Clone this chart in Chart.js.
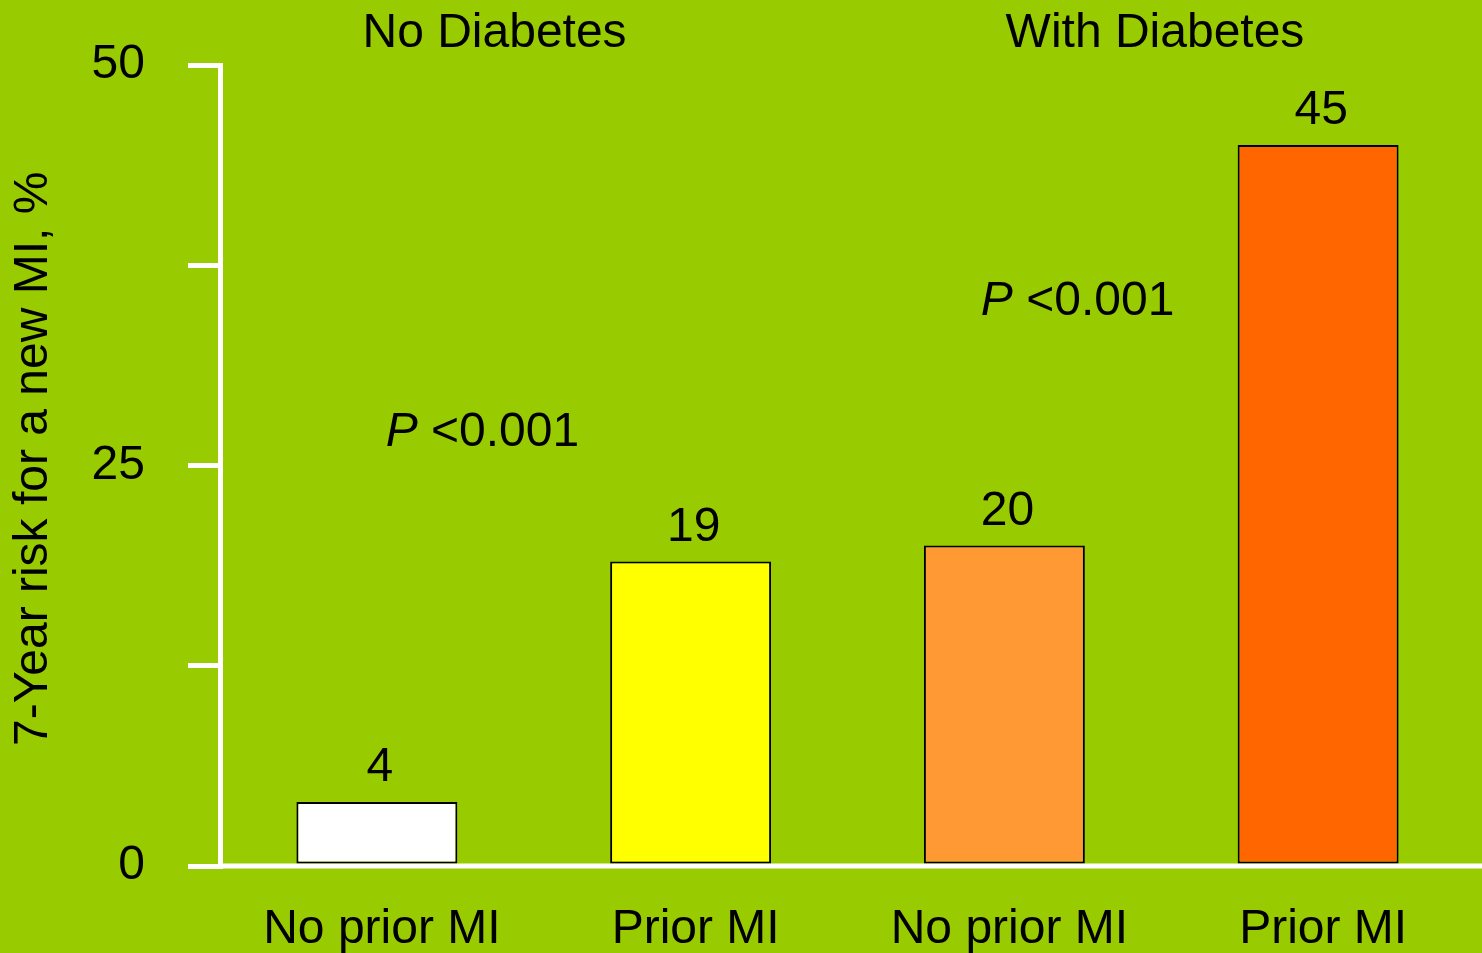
<!DOCTYPE html>
<html>
<head>
<meta charset="utf-8">
<script src="https://cdn.jsdelivr.net/npm/chart.js@4.4.1/dist/chart.umd.min.js"></script>
<style>
  html, body { margin: 0; padding: 0; background: #99CC00; }
  #wrap { width: 1482px; height: 953px; }
</style>
</head>
<body>
<div id="wrap"><canvas id="c" width="1482" height="953"></canvas></div>
<script>
// Risk of a new MI over 7 years, by diabetes and prior-MI status
const categories = ['No prior MI', 'Prior MI', 'No prior MI', 'Prior MI'];
const riskValues = [4, 19, 20, 45];
const barColors = ['#FFFFFF', '#FFFF00', '#FF9933', '#FF6600'];
const groupHeaders = ['No Diabetes', 'With Diabetes'];
const pValueLabels = ['<0.001', '<0.001'];
const yTickLabels = [0, 25, 50];

const FONT = '"Liberation Sans", Arial, sans-serif';
const FONT_SIZE = 48;

// header placement in category units along the x scale
const headerPos = [0.375, 2.48];
// p-value placement: [category units, axis value]
const pPos = [[0.028, 27.05], [1.925, 35.25]];

function xAt(scale, v) {
  const i = Math.floor(v);
  const a = scale.getPixelForValue(i);
  const b = scale.getPixelForValue(i + 1);
  return a + (b - a) * (v - i);
}

const backgroundPlugin = {
  id: 'bg',
  beforeDraw(chart) {
    const ctx = chart.ctx;
    ctx.save();
    ctx.fillStyle = '#99CC00';
    ctx.fillRect(0, 0, chart.width, chart.height);
    ctx.restore();
  }
};

// baseline along the zero value, running to the right edge of the canvas
const baselinePlugin = {
  id: 'baseline',
  beforeDatasetsDraw(chart) {
    const ctx = chart.ctx;
    const y = chart.scales.y.getPixelForValue(0);
    ctx.save();
    ctx.strokeStyle = '#FFFFFF';
    ctx.lineWidth = 5;
    ctx.beginPath();
    ctx.moveTo(chart.chartArea.left, y);
    ctx.lineTo(chart.width, y);
    ctx.stroke();
    ctx.restore();
  }
};

const textPlugin = {
  id: 'texts',
  afterDatasetsDraw(chart) {
    const ctx = chart.ctx;
    const xs = chart.scales.x, ys = chart.scales.y;
    ctx.save();
    ctx.fillStyle = '#000';
    ctx.textBaseline = 'middle';

    // values above bars
    ctx.font = FONT_SIZE + 'px ' + FONT;
    ctx.textAlign = 'center';
    chart.getDatasetMeta(0).data.forEach((bar, i) => {
      ctx.fillText(String(riskValues[i]), bar.x + 3, bar.y - 34);
    });

    // group headers
    groupHeaders.forEach((t, i) => {
      ctx.fillText(t, xAt(xs, headerPos[i]), 34);
    });

    // p-values, italic P
    ctx.textAlign = 'left';
    pValueLabels.forEach((t, i) => {
      const x0 = xAt(xs, pPos[i][0]);
      const y0 = ys.getPixelForValue(pPos[i][1]);
      ctx.font = 'italic ' + FONT_SIZE + 'px ' + FONT;
      ctx.fillText('P', x0, y0);
      const w = ctx.measureText('P ').width;
      ctx.font = FONT_SIZE + 'px ' + FONT;
      ctx.fillText(t, x0 + w, y0);
    });
    ctx.restore();
  }
};

new Chart(document.getElementById('c'), {
  type: 'bar',
  data: {
    labels: categories,
    datasets: [{
      data: riskValues,
      backgroundColor: barColors,
      borderColor: '#000000',
      borderWidth: 2,
      borderSkipped: false,
      categoryPercentage: 1,
      barPercentage: 0.513
    }]
  },
  options: {
    responsive: false,
    animation: false,
    events: [],
    layout: { padding: { top: 65, right: 7, bottom: 0, left: 0 } },
    plugins: {
      legend: { display: false },
      tooltip: { enabled: false },
      title: { display: false }
    },
    scales: {
      x: {
        type: 'category',
        offset: true,
        grid: { display: false, drawTicks: false },
        border: { display: false },
        ticks: {
          color: '#000',
          font: { family: FONT, size: FONT_SIZE },
          padding: 35,
          labelOffset: 5,
          maxRotation: 0,
          autoSkip: false
        },
        afterFit(scale) { scale.height = 87; }
      },
      y: {
        min: 0,
        max: 50,
        grid: {
          drawOnChartArea: false,
          drawTicks: true,
          tickLength: 32,
          color: '#FFFFFF',
          lineWidth: 5
        },
        border: { display: true, color: '#FFFFFF', width: 5 },
        ticks: {
          stepSize: 12.5,
          color: '#000',
          padding: 43,
          // single-line labels are centred on the tick regardless of line height;
          // a small line height keeps the axis from reserving extra room above the top tick
          font: { family: FONT, size: FONT_SIZE, lineHeight: 0.4 },
          callback: (v) => yTickLabels.includes(v) ? String(v) : ''
        },
        title: {
          display: true,
          text: ' 7-Year risk for a new MI, %',
          color: '#000',
          font: { family: FONT, size: FONT_SIZE },
          padding: { top: 5, bottom: 0 }
        },
        afterFit(scale) { scale.width = 220; }
      }
    }
  },
  plugins: [backgroundPlugin, baselinePlugin, textPlugin]
});
</script>
</body>
</html>
